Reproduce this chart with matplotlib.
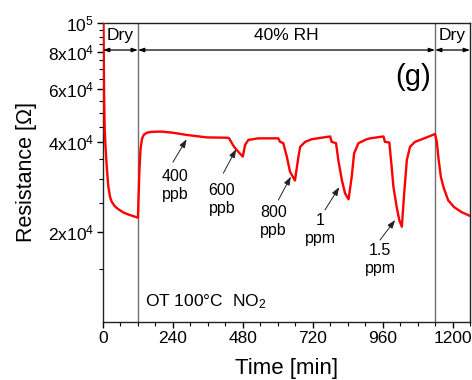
import numpy as np
import matplotlib
matplotlib.use('Agg')
import matplotlib.pyplot as plt
from matplotlib.ticker import FixedLocator, MultipleLocator, NullFormatter

plt.rcParams['font.family'] = ['Liberation Sans', 'DejaVu Sans']
plt.rcParams['mathtext.default'] = 'regular'

# resistance trace [min], [Ohm]
time_min = [0, 2, 4, 6, 9, 13, 18, 24, 30, 40, 50, 70, 90, 120,
            122, 125, 129, 134, 140, 150, 165, 200, 241, 287, 356, 425,
            432, 436, 450, 465, 480, 488, 499, 533, 573, 602, 608, 619,
            631, 642, 659, 671, 677, 694, 716, 750, 780, 785, 800, 808,
            820, 831, 843, 854, 862, 877, 905, 917, 940, 963, 968, 983,
            991, 997, 1008, 1017, 1026, 1034, 1043, 1054, 1071, 1111, 1140,
            1146, 1152, 1160, 1170, 1185, 1205, 1230, 1260]
resistance = [1.3e5, 9.0e4, 5.5e4, 4.4e4, 3.8e4, 3.3e4, 2.85e4, 2.62e4, 2.52e4,
              2.44e4, 2.39e4, 2.32e4, 2.28e4, 2.23e4,
              2.6e4, 3.2e4, 3.8e4, 4.1e4, 4.22e4, 4.29e4, 4.32e4, 4.33e4, 4.29e4,
              4.22e4, 4.14e4, 4.13e4,
              4.12e4, 4.06e4, 3.85e4, 3.7e4, 3.57e4, 3.91e4, 4.06e4, 4.11e4,
              4.11e4, 4.11e4, 4.0e4, 3.96e4,
              3.57e4, 3.18e4, 2.97e4, 3.57e4, 3.85e4, 4.0e4, 4.08e4, 4.13e4,
              4.17e4, 4.0e4, 3.96e4, 3.47e4,
              2.98e4, 2.69e4, 2.57e4, 3.06e4, 3.66e4, 3.96e4, 4.08e4, 4.11e4,
              4.14e4, 4.17e4, 4.0e4, 3.98e4,
              3.30e4, 2.83e4, 2.43e4, 2.19e4, 2.08e4, 2.69e4, 3.47e4, 3.85e4,
              4.0e4, 4.14e4, 4.25e4,
              4.0e4, 3.5e4, 3.05e4, 2.8e4, 2.55e4, 2.42e4, 2.33e4, 2.26e4]

phase_bounds = [0, 120, 1140, 1260]
phase_labels = ['Dry', '40% RH', 'Dry']

conc_labels = ['400\nppb', '600\nppb', '800\nppb', '1\nppm', '1.5\nppm']
tip_t = [287, 457, 645, 811, 1003]
tip_r = [4.08e4, 3.78e4, 3.06e4, 2.82e4, 2.19e4]
tail_t = [240, 413, 602, 762, 951]
tail_r = [3.42e4, 3.14e4, 2.555e4, 2.366e4, 1.877e4]
label_t = [247, 408, 585, 747, 951]
label_r = [2.86e4, 2.575e4, 2.165e4, 2.03e4, 1.61e4]

y_major = [2e4, 4e4, 6e4, 8e4, 1e5]
y_major_labels = ['2x10$^4$', '4x10$^4$', '6x10$^4$', '8x10$^4$', '10$^5$']

fig = plt.figure(figsize=(4.72, 3.8), dpi=100)
ax = fig.add_axes([0.2182, 0.1534, 0.7776, 0.7861])

ax.plot(time_min, resistance, color='#ff0000', lw=1.7, zorder=3)

for b in phase_bounds[1:3]:
    ax.axvline(b, color='#707070', lw=1.0, zorder=2)

ax.set_yscale('log')
ax.set_xlim(0, 1260)
ax.set_ylim(1e4, 1e5)

ax.set_yticks(y_major, y_major_labels)
ax.yaxis.set_minor_locator(FixedLocator([v for v in np.arange(1.5e4, 1e5, 5e3) if v not in y_major]))
ax.yaxis.set_minor_formatter(NullFormatter())
ax.xaxis.set_major_locator(MultipleLocator(240))
ax.xaxis.set_minor_locator(MultipleLocator(60))

ax.tick_params(which='major', direction='out', length=4.5, width=1, labelsize=12.5, pad=2)
ax.tick_params(which='minor', direction='out', length=2.6, width=0.8)
for s in ax.spines.values():
    s.set_color('#222222')
    s.set_linewidth(1.0)

ax.set_xlabel('Time [min]', fontsize=16, labelpad=9)
ax.set_ylabel('Resistance [Ω]', fontsize=15.5, labelpad=8)

# phase arrows along the top
arrow_r = 8.12e4
for i in range(3):
    ax.annotate('', xy=(phase_bounds[i], arrow_r), xytext=(phase_bounds[i + 1], arrow_r),
                arrowprops=dict(arrowstyle='<|-|>,head_length=0.35,head_width=0.12',
                                lw=0.9, color='black', shrinkA=0, shrinkB=0))
    ax.text((phase_bounds[i] + phase_bounds[i + 1]) / 2, 9.05e4, phase_labels[i],
            ha='center', va='center', fontsize=12.5)

ax.text(1066, 6.59e4, '(g)', ha='center', va='center', fontsize=21)
ax.text(144, 1.17e4, 'OT 100°C  NO$_2$', ha='left', va='center', fontsize=12.5)

for i in range(len(conc_labels)):
    ax.annotate('', xy=(tip_t[i], tip_r[i]), xytext=(tail_t[i], tail_r[i]),
                arrowprops=dict(arrowstyle='-|>,head_length=0.5,head_width=0.18',
                                lw=0.7, color='#222222', shrinkA=0, shrinkB=0))
    ax.text(label_t[i], label_r[i], conc_labels[i], ha='center', va='center',
            fontsize=11.5, linespacing=1.25)

plt.savefig('out.png', dpi=100)
